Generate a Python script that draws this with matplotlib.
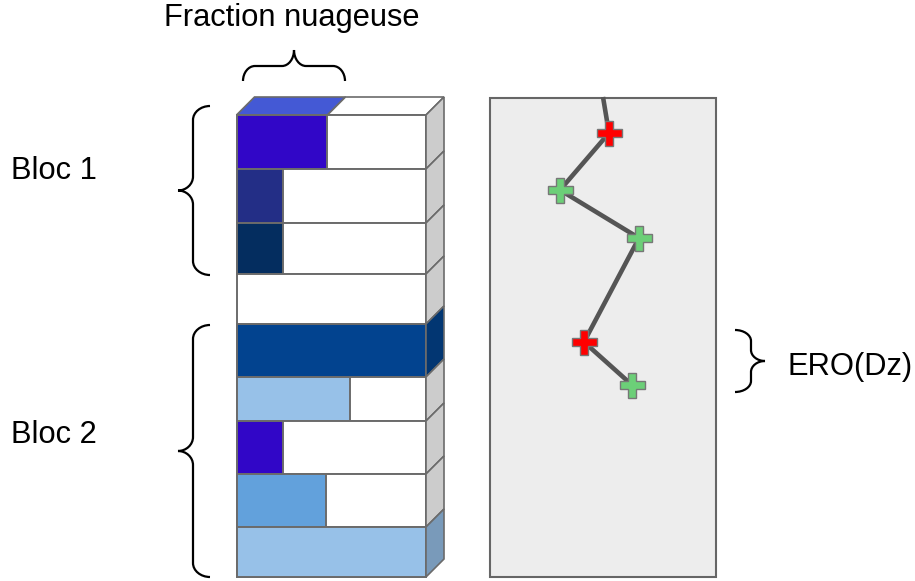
import numpy as np
import matplotlib
matplotlib.use("Agg")
import matplotlib.pyplot as plt
from matplotlib.patches import Polygon, Rectangle, PathPatch
from matplotlib.path import Path
from matplotlib.colors import to_rgb

# cloud column: layer edges (pixel rows), cloud fraction and colour per layer
layer_edges = [115, 169, 223, 274, 324, 377, 421, 474, 527, 577]
cloud_frac = [0.48, 0.245, 0.245, 0.0, 1.0, 0.60, 0.245, 0.47, 1.0]
cloud_cols = ['#3106C7', '#232E86', '#042D5F', '#FFFFFF', '#02438F',
              '#97C1E8', '#3106C7', '#62A1DC', '#97C1E8']
top_col = '#4459D5'

# ERO profile (right panel)
prof_x = [603, 609, 560, 639, 584, 632]
prof_y = [97, 133, 190, 238, 342, 385]
prof_kind = [None, 'r', 'g', 'g', 'r', 'g']

col_left, col_right = 236.5, 426
depth = 18  # 3d offset
edge = '#6b6b6b'


def shade(c, f=0.8):
    r, g, b = to_rgb(c)
    return (r * f, g * f, b * f)


def brace(ax, start, along, out, length, d1, d2, r=13, lw=1.6):
    k = 0.55
    L, m = length, length / 2.0
    pts = [(0, 0), (0, k * d1), (r - k * r, d1), (r, d1),
           (m - r, d1),
           (m - r + k * r, d1), (m, d1 + (d2 - d1) * (1 - k)), (m, d2),
           (m, d1 + (d2 - d1) * (1 - k)), (m + r - k * r, d1), (m + r, d1),
           (L - r, d1),
           (L - r + k * r, d1), (L, k * d1), (L, 0)]
    codes = [Path.MOVETO, Path.CURVE4, Path.CURVE4, Path.CURVE4,
             Path.LINETO,
             Path.CURVE4, Path.CURVE4, Path.CURVE4,
             Path.CURVE4, Path.CURVE4, Path.CURVE4,
             Path.LINETO,
             Path.CURVE4, Path.CURVE4, Path.CURVE4]
    A, u, n = np.array(start), np.array(along), np.array(out)
    xy = [A + s * u + t * n for s, t in pts]
    ax.add_patch(PathPatch(Path(xy, codes), fc='none', ec='black', lw=lw))


fig = plt.figure(figsize=(9.15, 5.81), dpi=100)
ax = fig.add_axes([0, 0, 1, 1])
ax.set_xlim(0, 915)
ax.set_ylim(581, 0)
ax.axis('off')

w = col_right - col_left
# top face
y0 = layer_edges[0]
fx = col_left + cloud_frac[0] * w
ax.add_patch(Polygon([(col_left, y0), (fx, y0), (fx + depth, y0 - depth),
                      (col_left + depth, y0 - depth)], fc=top_col, ec=edge, lw=1.2))
ax.add_patch(Polygon([(fx, y0), (col_right, y0), (col_right + depth, y0 - depth),
                      (fx + depth, y0 - depth)], fc='white', ec=edge, lw=1.2))

for i, f in enumerate(cloud_frac):
    yt, yb = layer_edges[i], layer_edges[i + 1]
    h = yb - yt
    ax.add_patch(Rectangle((col_left, yt), w, h, fc='white', ec=edge, lw=1.4))
    if f > 0:
        ax.add_patch(Rectangle((col_left, yt), f * w, h, fc=cloud_cols[i], ec=edge, lw=1.4))
    side = shade(cloud_cols[i], 0.8) if f >= 1 else '#CCCCCC'
    ax.add_patch(Polygon([(col_right, yt), (col_right + depth, yt - depth),
                          (col_right + depth, yb - depth), (col_right, yb)],
                         fc=side, ec=edge, lw=1.2))

# right panel
ax.add_patch(Rectangle((490, 97.5), 226, 479.5, fc='#EDEDED', ec='#666666', lw=1.5))
ax.plot(prof_x, prof_y, color='#555555', lw=3.3, solid_capstyle='butt', zorder=3)
for x, y, k in zip(prof_x, prof_y, prof_kind):
    if k is None:
        continue
    fc = '#FF0000' if k == 'r' else '#6CCF78'
    ax.plot(x, y, marker='P', ms=18, mfc=fc, mec='#777777', mew=1, zorder=4)

# braces
brace(ax, (243, 81), (1, 0), (0, -1), 102, 15, 31, r=12)
brace(ax, (210, 106), (0, 1), (-1, 0), 169, 17, 32, r=14)
brace(ax, (210, 325), (0, 1), (-1, 0), 252, 17, 32, r=14)
brace(ax, (735, 330), (0, 1), (1, 0), 62, 16, 30, r=11)

font = dict(family='Liberation Sans', fontsize=22.2, color='black')
ax.text(292, 26, 'Fraction nuageuse', ha='center', va='baseline', **font)
ax.text(11, 179, 'Bloc 1', ha='left', va='baseline', **font)
ax.text(11, 443, 'Bloc 2', ha='left', va='baseline', **font)
ax.text(787, 375, 'ERO(Dz)', ha='left', va='baseline', **font)

fig.savefig('out.png', dpi=100, facecolor='white')
